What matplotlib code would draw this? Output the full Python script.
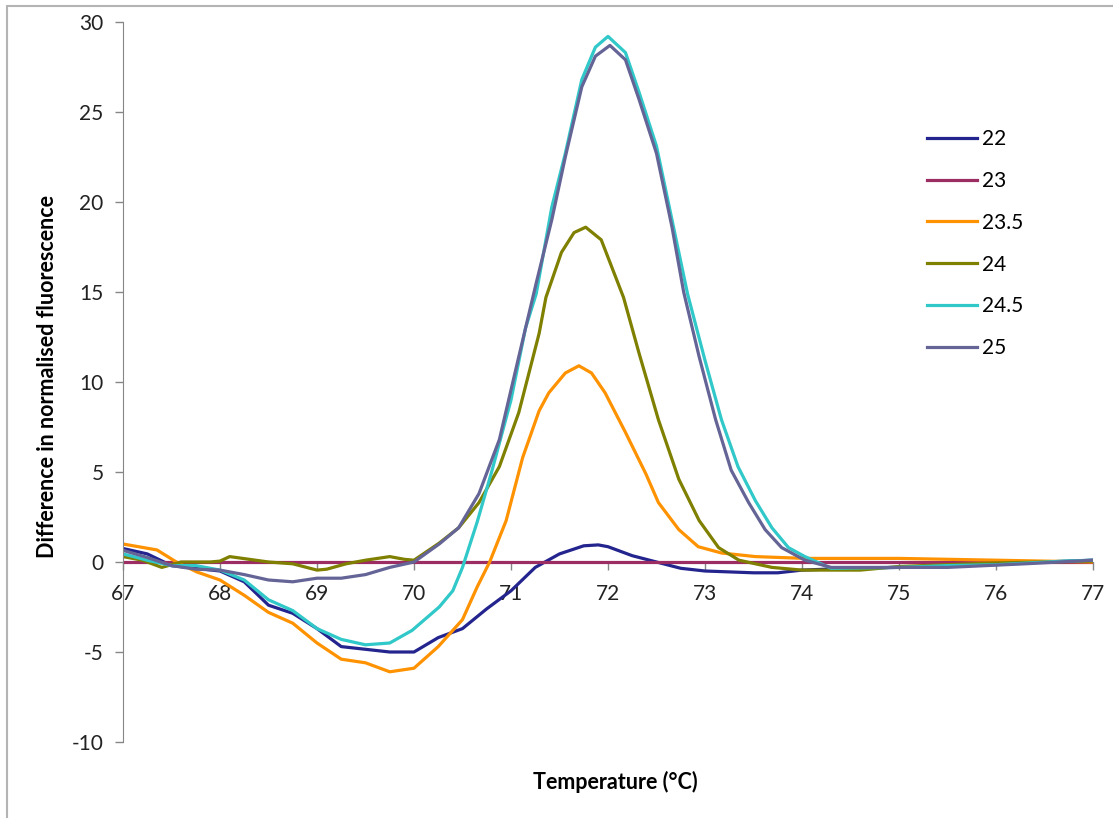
import matplotlib
matplotlib.use("Agg")
import matplotlib.pyplot as plt
from matplotlib.patches import Rectangle

plt.rcParams['font.family'] = ['Lato', 'DejaVu Sans']
plt.rcParams['axes.unicode_minus'] = False

# series names (legend)
labels = ["22", "23", "23.5", "24", "24.5", "25"]
colors = ["#24248F", "#9B2D62", "#FF9200", "#7F7F00", "#30C8C8", "#646496"]

# temperatures and values, one pair of lists per series
t22 = [67.0, 67.25, 67.5, 67.75, 68.0, 68.25, 68.5, 68.75, 69.0, 69.25, 69.5, 69.75,
       70.0, 70.25, 70.5, 70.75, 71.0, 71.25, 71.5, 71.75, 71.9, 72.0, 72.25, 72.5,
       72.75, 73.0, 73.25, 73.5, 73.75, 74.0, 74.5, 75.0, 75.5, 76.0, 76.5, 77.0]
v22 = [0.75, 0.45, -0.2, -0.35, -0.5, -1.1, -2.4, -2.85, -3.7, -4.7, -4.85, -5.0,
       -5.0, -4.2, -3.7, -2.6, -1.6, -0.3, 0.45, 0.9, 0.95, 0.85, 0.35, 0.0,
       -0.35, -0.5, -0.55, -0.6, -0.6, -0.45, -0.35, -0.3, -0.2, -0.1, 0.0, 0.1]

t23 = [67.0, 77.0]
v23 = [0.0, 0.0]

t235 = [67.0, 67.35, 67.55, 67.76, 68.0, 68.25, 68.5, 68.75, 69.0, 69.25, 69.5, 69.75,
        70.0, 70.25, 70.5, 70.65, 70.78, 70.95, 71.12, 71.29, 71.39, 71.56, 71.7, 71.83,
        71.97, 72.18, 72.39, 72.52, 72.73, 72.93, 73.17, 73.52, 74.03, 74.5, 75.0, 75.5,
        76.0, 76.5, 77.0]
v235 = [1.0, 0.67, 0.0, -0.55, -1.0, -1.85, -2.8, -3.4, -4.5, -5.4, -5.6, -6.1,
        -5.9, -4.7, -3.2, -1.4, 0.0, 2.3, 5.8, 8.4, 9.4, 10.5, 10.9, 10.5,
        9.4, 7.2, 4.9, 3.3, 1.8, 0.85, 0.5, 0.3, 0.2, 0.2, 0.2, 0.15,
        0.1, 0.05, 0.0]

t24 = [67.0, 67.2, 67.4, 67.6, 67.9, 68.0, 68.1, 68.3, 68.5, 68.75, 69.0, 69.1,
       69.3, 69.5, 69.75, 69.9, 70.0, 70.26, 70.46, 70.67, 70.88, 71.08, 71.29, 71.36,
       71.52, 71.65, 71.77, 71.93, 72.16, 72.32, 72.52, 72.73, 72.94, 73.14, 73.35, 73.69,
       74.0, 74.6, 75.0, 75.5, 76.0, 77.0]
v24 = [0.3, 0.1, -0.3, 0.0, 0.0, 0.05, 0.3, 0.15, 0.0, -0.1, -0.45, -0.4,
       -0.1, 0.1, 0.3, 0.15, 0.1, 1.05, 1.9, 3.3, 5.3, 8.3, 12.7, 14.7,
       17.2, 18.3, 18.6, 17.9, 14.7, 11.6, 7.9, 4.6, 2.3, 0.8, 0.1, -0.3,
       -0.45, -0.45, -0.25, -0.15, -0.05, 0.05]

t245 = [67.0, 67.25, 67.5, 67.75, 68.0, 68.25, 68.5, 68.75, 69.0, 69.25, 69.5, 69.75,
        69.98, 70.26, 70.4, 70.5, 70.65, 70.8, 71.0, 71.15, 71.26, 71.42, 71.56, 71.73,
        71.87, 72.0, 72.18, 72.32, 72.5, 72.66, 72.82, 73.0, 73.17, 73.34, 73.52, 73.69,
        73.86, 74.03, 74.3, 75.0, 75.5, 76.0, 76.7, 77.0]
v245 = [0.45, 0.1, -0.2, -0.2, -0.45, -1.0, -2.1, -2.7, -3.7, -4.3, -4.6, -4.5,
        -3.8, -2.5, -1.6, -0.3, 2.2, 5.0, 9.0, 13.0, 14.9, 19.7, 22.7, 26.8,
        28.6, 29.2, 28.3, 26.1, 23.1, 19.0, 14.9, 11.2, 7.9, 5.3, 3.4, 1.9,
        0.8, 0.3, -0.35, -0.3, -0.2, -0.15, 0.05, 0.1]

t25 = [67.0, 67.25, 67.5, 67.75, 68.0, 68.25, 68.5, 68.75, 69.0, 69.25, 69.5, 69.75,
       70.0, 70.26, 70.46, 70.67, 70.88, 71.08, 71.26, 71.42, 71.56, 71.73, 71.87, 72.02,
       72.18, 72.32, 72.5, 72.66, 72.78, 72.94, 73.11, 73.27, 73.45, 73.62, 73.79, 74.03,
       74.3, 75.5, 76.3, 77.0]
v25 = [0.65, 0.25, -0.2, -0.4, -0.45, -0.7, -1.0, -1.1, -0.9, -0.9, -0.7, -0.3,
       0.0, 1.0, 1.9, 3.8, 6.8, 11.4, 15.5, 19.0, 22.5, 26.4, 28.1, 28.7,
       27.9, 25.7, 22.7, 18.6, 15.0, 11.4, 7.9, 5.1, 3.3, 1.8, 0.8, 0.1,
       -0.3, -0.3, -0.1, 0.1]

temps = [t22, t23, t235, t24, t245, t25]
values = [v22, v23, v235, v24, v245, v25]

W, H = 1113, 818
fig = plt.figure(figsize=(W / 100, H / 100), dpi=100)
ax = fig.add_axes([123 / W, (H - 742) / H, 970 / W, 720 / H])

for t, v, lab, c in zip(temps, values, labels, colors):
    ax.plot(t, v, color=c, lw=2.3, label=lab)

ax.set_xlim(67, 77)
ax.set_ylim(-10, 30)
ax.set_xticks(range(67, 78))
ax.set_yticks(range(-10, 31, 5))

# excel style: x axis crosses at zero, only left axis line
grey = "#868686"
for s in ["top", "right"]:
    ax.spines[s].set_visible(False)
ax.spines["bottom"].set_position(("data", 0))
ax.spines["bottom"].set_color(grey)
ax.spines["left"].set_color(grey)
ax.spines["bottom"].set_zorder(0)
ax.tick_params(axis="both", colors=grey, labelcolor="#222222", labelsize=15,
               direction="out", length=6, width=1)
ax.tick_params(axis="x", pad=10)
ax.tick_params(axis="y", pad=8)

ax.set_xlabel("Temperature (°C)", fontsize=15.5, fontweight="bold", va="center")
ax.xaxis.set_label_coords((615 - 123) / 970, (742 - 782) / 720)
ax.set_ylabel("Difference in normalised fluorescence", fontsize=15.5,
              fontweight="bold", va="center")
ax.yaxis.set_label_coords((48 - 123) / 970, (742 - 377) / 720)

ax.legend(loc="upper left", bbox_to_anchor=(927 / W, 1 - 129 / H),
          bbox_transform=fig.transFigure, frameon=False, fontsize=15,
          handlelength=2.4, handletextpad=0.25, labelspacing=1.05,
          borderpad=0, borderaxespad=0)

# chart area border (cut off at right and bottom)
fig.patches.append(Rectangle((7 / W, -0.05), 1.1, 1.05 - 6 / H,
                             transform=fig.transFigure, fill=False,
                             edgecolor="#B4B4B4", lw=1.5))

fig.savefig("out.png", dpi=100)
